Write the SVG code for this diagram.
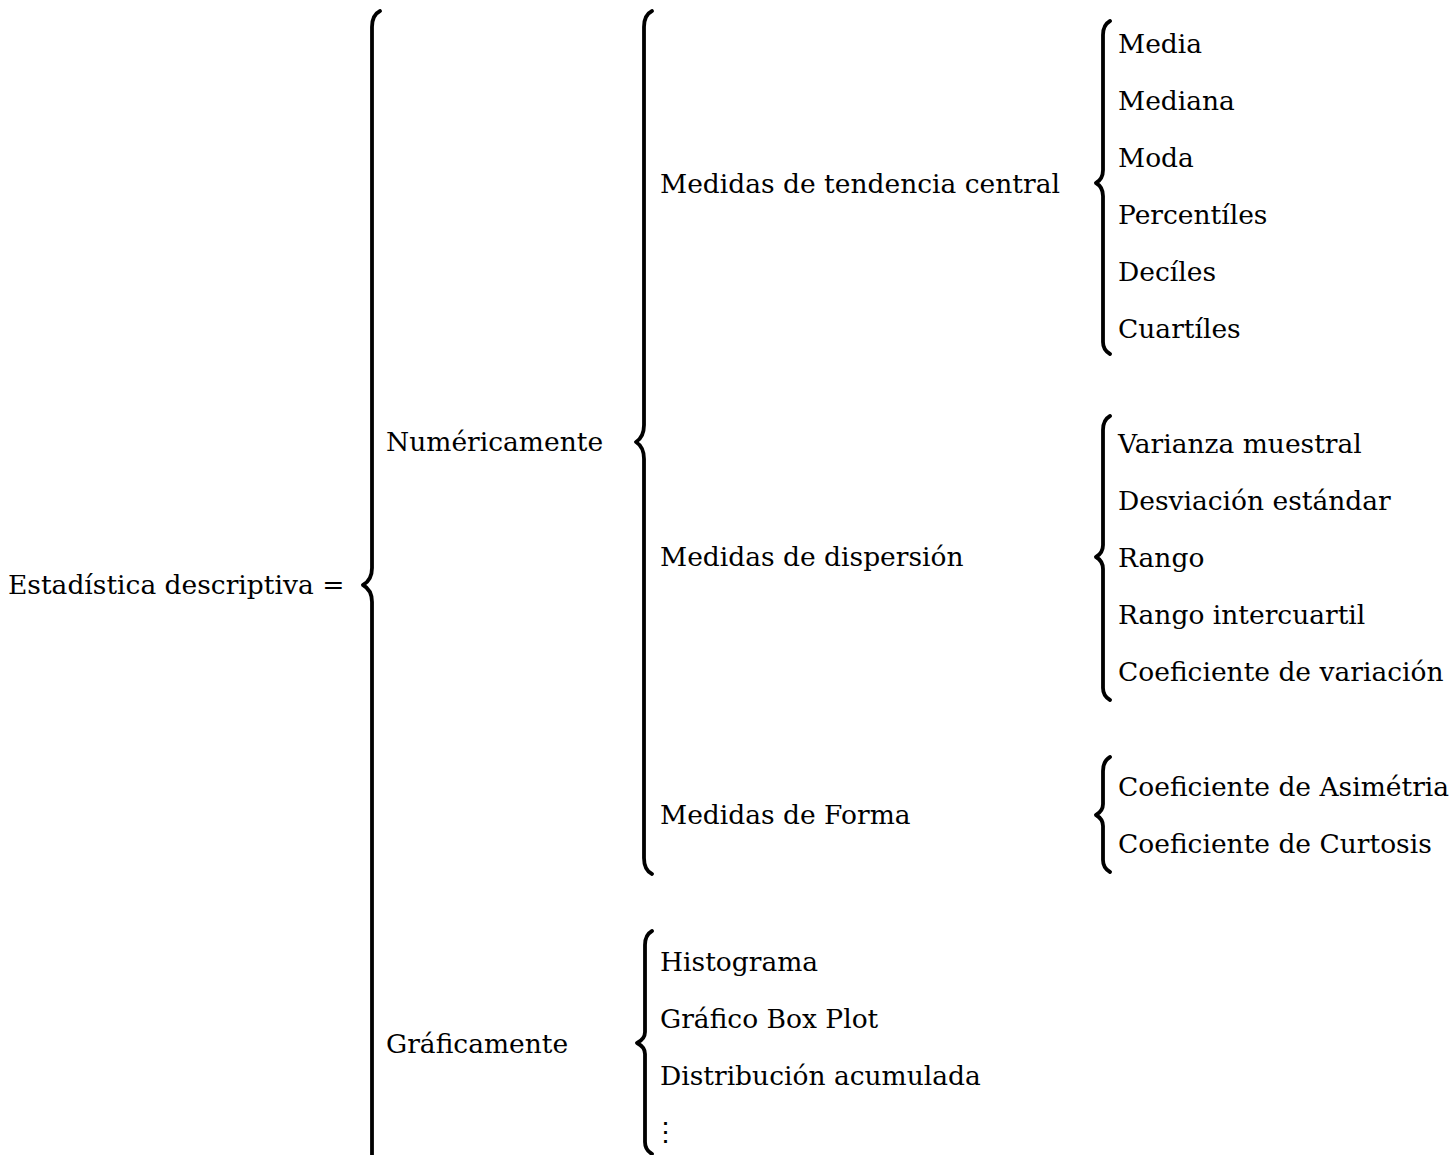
<svg xmlns="http://www.w3.org/2000/svg" width="1455" height="1155" viewBox="0 0 1455 1155">
<style>
text{font-family:"DejaVu Serif","Liberation Serif",serif;font-size:26.5px;fill:#000}
.brace{fill:none;stroke:#000;stroke-width:3.8;stroke-linecap:round;stroke-linejoin:round}
</style>
<rect width="1455" height="1155" fill="#fff"/>
<g id="connectors">
<path class="brace" d="M380 11 Q372 15 372 27 L372 568 Q372 580 363 585 Q372 590 372 602 L372 1160"/>
<path class="brace" d="M652 11 Q644 15 644 27 L644 425 Q644 437 636 442 Q644 447 644 459 L644 858 Q644 870 652 874"/>
<path class="brace" d="M1110 21 Q1103 25 1103 35 L1103 170 Q1103 179 1096 183 Q1103 187 1103 196 L1103 342 Q1103 350 1110 354"/>
<path class="brace" d="M1110 416 Q1103 420 1103 430 L1103 545 Q1103 553 1096 557 Q1103 561 1103 569 L1103 688 Q1103 696 1110 700"/>
<path class="brace" d="M1110 757 Q1103 761 1103 771 L1103 804 Q1103 811 1096 815 Q1103 819 1103 826 L1103 860 Q1103 868 1110 872"/>
<path class="brace" d="M652 931 Q645 935 645 945 L645 1032 Q645 1039 637 1043 Q645 1047 645 1054 L645 1142 Q645 1150 652 1154"/>
</g>
<g id="root"><text x="8" y="594">Estadística descriptiva =</text></g>
<g id="numericamente"><text x="386" y="451">Numéricamente</text></g>
<g id="graficamente"><text x="386" y="1053">Gráficamente</text></g>
<g id="tendencia"><text x="660" y="193">Medidas de tendencia central</text></g>
<g id="dispersion"><text x="660" y="566">Medidas de dispersión</text></g>
<g id="forma"><text x="660" y="824">Medidas de Forma</text></g>
<g id="tendencia-items">
<text x="1118" y="53">Media</text>
<text x="1118" y="110">Mediana</text>
<text x="1118" y="167">Moda</text>
<text x="1118" y="224">Percentíles</text>
<text x="1118" y="281">Decíles</text>
<text x="1118" y="338">Cuartíles</text>
</g>
<g id="dispersion-items">
<text x="1118" y="453">Varianza muestral</text>
<text x="1118" y="510">Desviación estándar</text>
<text x="1118" y="567">Rango</text>
<text x="1118" y="624">Rango intercuartil</text>
<text x="1118" y="681">Coeficiente de variación</text>
</g>
<g id="forma-items">
<text x="1118" y="796">Coeficiente de Asimétria</text>
<text x="1118" y="853">Coeficiente de Curtosis</text>
</g>
<g id="grafico-items">
<text x="660" y="971">Histograma</text>
<text x="660" y="1028">Gráfico Box Plot</text>
<text x="660" y="1085">Distribución acumulada</text>
<text x="652" y="1141">⋮</text>
</g>
</svg>
